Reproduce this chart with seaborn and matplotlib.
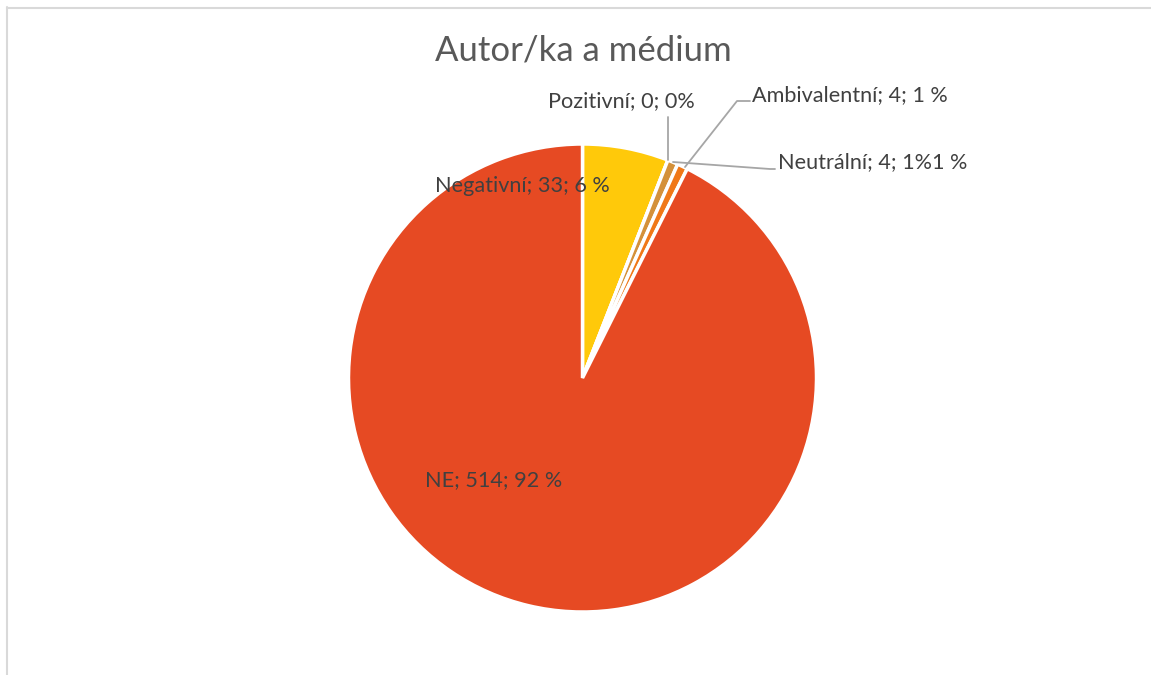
import seaborn as sns
import matplotlib.pyplot as plt
from matplotlib.lines import Line2D

# data
categories = ["Negativní", "Pozitivní", "Ambivalentní", "Neutrální", "NE"]
counts = [33, 0, 4, 4, 514]
pct_labels = ["6 %", "0%", "1 %", "1%1 %", "92 %"]
colors = ["#FFC90A", "#FFC90A", "#D4913A", "#F07818", "#E64A23"]
title = "Autor/ka a médium"


def main():
  sns.set_theme(style="white")
  plt.rcParams['font.family'] = ['Lato', 'DejaVu Sans']

  W, H = 1151, 675
  fig = plt.figure(figsize=(W / 100, H / 100), dpi=100)
  ax = fig.add_axes([0, 0, 1, 1])

  cx, cy, r = 582.5, H - 378, 234
  ax.pie(counts, colors=colors, startangle=90, counterclock=False,
         center=(cx, cy), radius=r, frame=True,
         wedgeprops=dict(edgecolor='white', linewidth=2.5))
  ax.set_xlim(0, W)
  ax.set_ylim(0, H)
  ax.set_aspect('equal')
  ax.axis('off')

  labels = [f"{c}; {n}; {p}" for c, n, p in zip(categories, counts, pct_labels)]
  txt = dict(color='#404040', fontsize=15.6)
  # label positions (pixels from top-left)
  ax.text(435, H - 186, labels[0], ha='left', va='center', **txt)
  ax.text(548, H - 101, labels[1], ha='left', va='center', **txt)
  ax.text(752, H - 95, labels[2], ha='left', va='center', **txt)
  ax.text(778, H - 162, labels[3], ha='left', va='center', **txt)
  ax.text(494, H - 480, labels[4], ha='center', va='center', **txt)

  # leader lines
  lc = dict(color='#A6A6A6', linewidth=1.3)
  ax.plot([668, 668], [H - 117, H - 160], **lc)
  ax.plot([750, 737, 685], [H - 101, H - 101, H - 167], **lc)
  ax.plot([673, 770, 775], [H - 162, H - 169, H - 169], **lc)

  ax.text(583, H - 50, title, ha='center', va='center', fontsize=25, color='#595959')

  # chart frame (cropped)
  fig.add_artist(Line2D([7 / W, 1], [1 - 7.5 / H, 1 - 7.5 / H], color='#D9D9D9', lw=1.5))
  fig.add_artist(Line2D([7.5 / W, 7.5 / W], [0, 1 - 7 / H], color='#D9D9D9', lw=1.5))

  plt.savefig("out.png", dpi=100)


if __name__ == '__main__':
  main()
